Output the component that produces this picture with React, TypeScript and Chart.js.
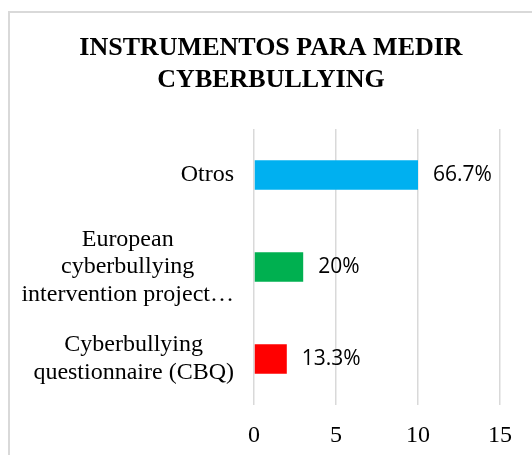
import React, { useEffect, useRef } from "react";
import { Chart, registerables } from "chart.js";

Chart.register(...registerables);

const titleLines = ["INSTRUMENTOS PARA MEDIR", "CYBERBULLYING"];
const categories = [
  ["Otros"],
  ["European", "cyberbullying", "intervention project…"],
  ["Cyberbullying", "questionnaire (CBQ)"],
];
const counts = [10, 3, 2];
const percentLabels = ["66.7%", "20%", "13.3%"];
const barColors = ["#00B0F0", "#00B050", "#FF0000"];
const xTicks = { min: 0, max: 15, step: 5 };

const SERIF = "'Liberation Serif', 'Times New Roman', serif";
const SANS = "'Open Sans', 'Liberation Sans', sans-serif";

const labelsPlugin = {
  id: "customLabels",
  afterDraw(chart: any) {
    const ctx = chart.ctx;
    const yScale = chart.scales.y;
    const meta = chart.getDatasetMeta(0);
    ctx.save();
    // category labels: block right-aligned, lines centered within block
    ctx.font = `24px ${SERIF}`;
    ctx.fillStyle = "#000";
    ctx.textBaseline = "middle";
    ctx.textAlign = "center";
    const lineH = 27.6;
    categories.forEach((lines, i) => {
      const cy = yScale.getPixelForValue(i);
      const widest = Math.max(...lines.map((l) => ctx.measureText(l).width));
      const right = yScale.right - 20;
      const cx = right - widest / 2;
      const startY = cy - ((lines.length - 1) * lineH) / 2;
      lines.forEach((l, j) => ctx.fillText(l, cx, startY + j * lineH));
    });
    // data labels
    ctx.font = `21px ${SANS}`;
    ctx.textAlign = "left";
    meta.data.forEach((bar: any, i: number) => {
      ctx.fillText(percentLabels[i], bar.x + 15, bar.y);
    });
    ctx.restore();
  },
};

export default function App() {
  const ref = useRef<HTMLCanvasElement>(null);
  useEffect(() => {
    const chart = new Chart(ref.current!, {
      type: "bar",
      data: {
        labels: categories.map((c) => c.join(" ")),
        datasets: [
          {
            data: counts,
            backgroundColor: barColors,
            borderWidth: 0,
            barPercentage: 0.32,
            categoryPercentage: 1,
          },
        ],
      },
      options: {
        indexAxis: "y",
        animation: false,
        responsive: false,
        maintainAspectRatio: false,
        layout: { padding: 0 },
        plugins: {
          legend: { display: false },
          tooltip: { enabled: false },
          title: {
            display: true,
            text: titleLines,
            color: "#000",
            font: { family: SERIF, size: 26, weight: "bold", lineHeight: 1.23 },
            padding: { top: 19, bottom: 33 },
          },
        },
        scales: {
          x: {
            min: xTicks.min,
            max: xTicks.max,
            ticks: {
              stepSize: xTicks.step,
              color: "#000",
              font: { family: SERIF, size: 24 },
              padding: 16,
            },
            grid: { color: "#d9d9d9", lineWidth: 1.5, drawTicks: false },
            border: { display: false },
            afterFit: (s: any) => {
              s.height = 50;
            },
          },
          y: {
            ticks: { display: false },
            grid: { display: false },
            border: { display: false },
            afterFit: (s: any) => {
              s.width = 244;
            },
          },
          yr: {
            type: "linear",
            position: "right",
            display: true,
            ticks: { display: false },
            grid: { display: false },
            border: { display: false },
            afterFit: (s: any) => {
              s.width = 32;
            },
          },
        },
      } as any,
      plugins: [labelsPlugin],
    });
    return () => chart.destroy();
  }, []);
  return (
    <div
      style={{
        position: "absolute",
        left: 8,
        top: 11,
        width: 524,
        height: 444,
        borderTop: "2px solid #d9d9d9",
        borderLeft: "2px solid #d9d9d9",
        background: "#fff",
        boxSizing: "border-box",
        overflow: "hidden",
      }}
    >
      <canvas ref={ref} width={522} height={442} style={{ display: "block" }} />
    </div>
  );
}
